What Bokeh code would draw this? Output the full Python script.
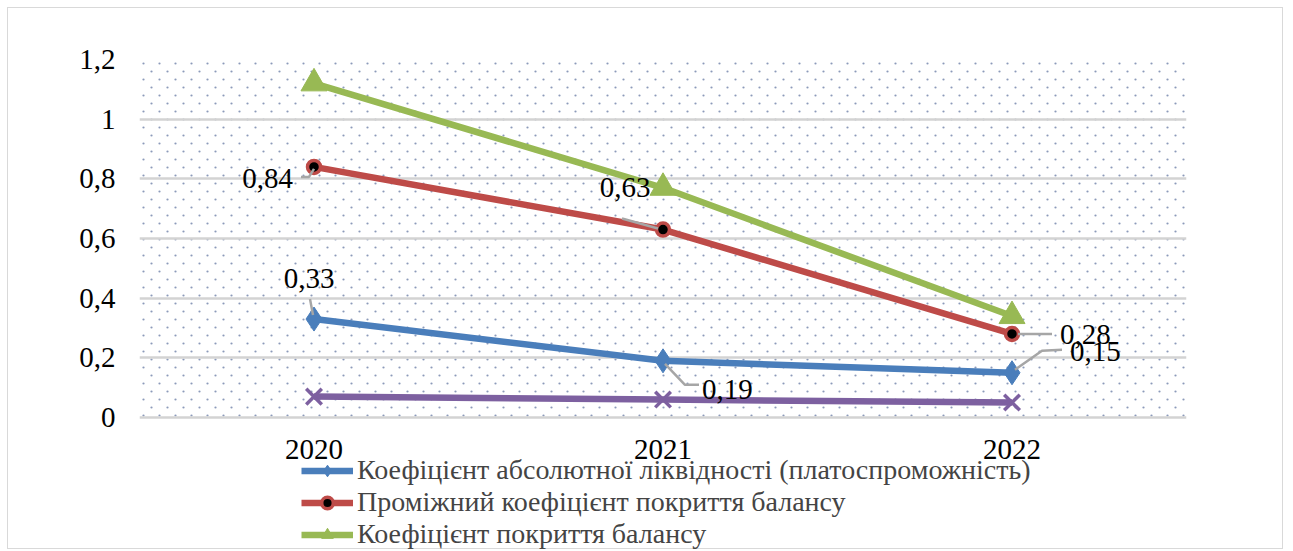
import numpy as np
from bokeh.plotting import figure
from bokeh.models import (Range1d, FixedTicker, CustomJSTickFormatter,
                          Legend, LegendItem, ColumnDataSource)
from bokeh.core.properties import value
from bokeh.embed import file_html
from bokeh.resources import INLINE

years = ["2020", "2021", "2022"]
abs_liq = [0.33, 0.19, 0.15]          # Коефіцієнт абсолютної ліквідності
inter_cov = [0.84, 0.63, 0.28]        # Проміжний коефіцієнт покриття балансу
cov = [1.12, 0.77, 0.34]              # Коефіцієнт покриття балансу
fourth = [0.07, 0.06, 0.05]           # series whose legend entry is cut off
y_ticks = [0, 0.2, 0.4, 0.6, 0.8, 1.0, 1.2]
y_max = 1.2

names = ["Коефіцієнт абсолютної ліквідності (платоспроможність)",
         "Проміжний коефіцієнт покриття балансу",
         "Коефіцієнт покриття балансу"]

FONT = "Liberation Serif"
xs = list(range(len(years)))

W, H = 1276, 542
TOP, LEFT, RIGHT = 51, 131, 98
PLOT_W = W - LEFT - RIGHT
PLOT_H = 358                      # pixel height of the 0..1.2 plot area
PX_Y = y_max / PLOT_H
PX_X = len(years) / PLOT_W
y_min = y_max - (H - TOP) * PX_Y  # frame extends below 0 to hold the legend

p = figure(width=W, height=H, output_backend="svg", toolbar_location=None,
           x_range=Range1d(-0.5, len(years) - 0.5), y_range=Range1d(y_min, y_max),
           x_axis_location=None,
           min_border_left=LEFT, min_border_right=RIGHT, min_border_top=TOP,
           min_border_bottom=0)
p.styles = {"border": "1px solid #d9d9d9", "margin-left": "7px", "margin-top": "7px"}
p.outline_line_color = None
p.background_fill_color = "white"
for g in p.grid:
    if g.dimension == 0:
        g.visible = False

# background texture: staggered lattice of small dots over the plot area
rows = np.arange(4, PLOT_H, 8)
tx, ty = [], []
for r, ypx in enumerate(rows):
    xpx = np.arange(4 + (8 if r % 2 else 0), PLOT_W, 16)
    tx.extend(-0.5 + xpx * PX_X)
    ty.extend([y_max - ypx * PX_Y] * len(xpx))
tex = p.scatter(tx, ty, marker="circle", size=2.2, fill_color="#7f8fb3",
                line_color=None, fill_alpha=0.9)
tex.level = "underlay"

# y axis
p.yaxis.ticker = FixedTicker(ticks=y_ticks)
p.yaxis.formatter = CustomJSTickFormatter(
    code="return (Math.round(tick*10)/10).toString().replace('.', ',');")
ax = p.yaxis[0]
ax.axis_line_color = None
ax.major_tick_line_color = None
ax.minor_tick_line_color = None
ax.major_label_text_font = FONT
ax.major_label_text_font_size = "29px"
ax.major_label_text_color = "black"
ax.major_label_standoff = 18
p.ygrid.ticker = FixedTicker(ticks=y_ticks)
p.ygrid.grid_line_color = "#d3d3d3"
p.ygrid.grid_line_width = 2.5

# category labels under the plot area
p.text(x=xs, y=[0] * len(xs), text=years, text_align="center", text_baseline="middle",
       y_offset=32, text_font=value(FONT), text_font_size="29px", text_color="black")

# series
blue, red, green, purple = "#4a7ebb", "#be4b48", "#98b954", "#7d60a0"
LW = 6.5
l1 = p.line(xs, abs_liq, color=blue, line_width=LW)
m1 = p.scatter(xs, abs_liq, marker="diamond", size=24, color=blue)
l2 = p.line(xs, inter_cov, color=red, line_width=LW)
m2 = p.scatter(xs, inter_cov, marker="circle", size=13, fill_color="black",
               line_color=red, line_width=3.5)
l3 = p.line(xs, cov, color=green, line_width=LW)
m3 = p.scatter(xs, cov, marker="triangle", size=26, color=green)
l4 = p.line(xs, fourth, color=purple, line_width=LW)
m4 = p.scatter(xs, fourth, marker="x", size=22, line_color=purple, line_width=3.5)

# data labels with leader lines (offsets in screen pixels, y down)
def fmt(v):
    return ("%.2f" % v).replace(".", ",")

label_specs = [
    (inter_cov, 0, -21, 12, "right", [(-13, 10), (-5, 10), (0, 2)]),
    (inter_cov, 1, -38, -42, "center", [(-41, -11), (-5, -1)]),
    (inter_cov, 2, 48, 1, "left", [(6, 0), (40, 0)]),
    (abs_liq, 0, -5, -41, "center", [(-4, -20), (-1, -4)]),
    (abs_liq, 1, 39, 29, "left", [(2, 3), (22, 24), (36, 24)]),
    (abs_liq, 2, 58, -21, "left", [(3, -3), (30, -22), (50, -23)]),
]
lx, ly, lt, la = [], [], [], []
seg_x, seg_y = [], []
for series, i, dx, dy, align, pts in label_specs:
    xv, yv = xs[i], series[i]
    lx.append(xv + dx * PX_X)
    ly.append(yv - dy * PX_Y)
    lt.append(fmt(yv))
    la.append(align)
    seg_x.append([xv + a * PX_X for a, b in pts])
    seg_y.append([yv - b * PX_Y for a, b in pts])

p.multi_line(seg_x, seg_y, line_color="#a6a6a6", line_width=2.5)
src = ColumnDataSource(dict(x=lx, y=ly, t=lt, a=la))
p.text(x="x", y="y", text="t", text_align="a", text_baseline="middle",
       text_font=value(FONT), text_font_size="29px", text_color="black", source=src)

legend = Legend(items=[LegendItem(label=names[0], renderers=[l1, m1]),
                       LegendItem(label=names[1], renderers=[l2, m2]),
                       LegendItem(label=names[2], renderers=[l3, m3])],
                location=(162, 0))
legend.label_text_font = FONT
legend.label_text_font_size = "28px"
legend.label_height = 29
legend.glyph_height = 29
legend.glyph_width = 52
legend.label_standoff = 4
legend.spacing = 0
legend.padding = 0
legend.margin = 0
legend.border_line_alpha = 0
legend.background_fill_alpha = 0
p.add_layout(legend, "center")

open("out.html", "w").write(file_html(p, INLINE))
